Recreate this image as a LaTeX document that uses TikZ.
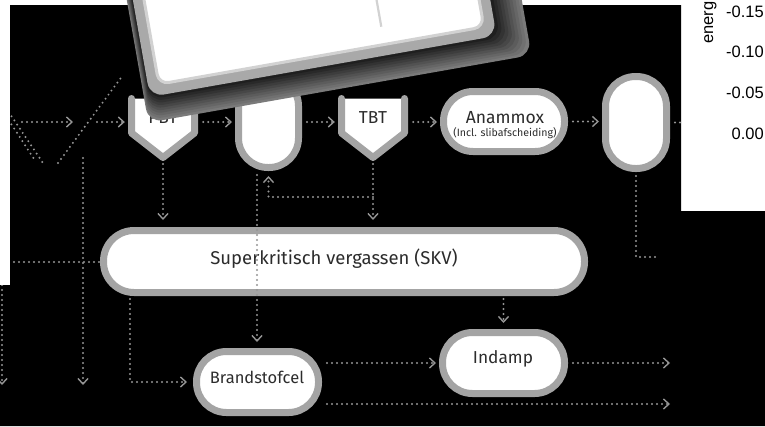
\documentclass[tikz,border=0pt]{standalone}
\usepackage{fontspec}
\setmainfont{Fira Sans}
\newfontfamily\plotfont{Liberation Sans}
\usetikzlibrary{arrows.meta,calc}
\definecolor{pillgrey}{HTML}{A4A4A4}
\definecolor{dotgrey}{HTML}{959595}
\definecolor{labelgrey}{HTML}{2C2C2C}
\definecolor{keygrey}{HTML}{A9A9A9}
\definecolor{bevel}{HTML}{D2D2D2}

\begin{document}
\begin{tikzpicture}[x=1pt,y=-1pt,
  pill/.style={draw=pillgrey, line width=7pt, fill=white, inner sep=0pt, rectangle},
  hopperbox/.style={inner sep=0pt, minimum width=70pt, minimum height=56pt},
  hopperline/.style={draw=pillgrey, line width=7pt, line cap=round, line join=round},
  lab/.style={text=labelgrey, inner sep=0pt, anchor=base, font=\fontsize{17.3}{20}\selectfont},
  smalllab/.style={text=labelgrey, inner sep=0pt, anchor=base, font=\fontsize{10.6}{12}\selectfont},
  flow/.style={draw=dotgrey, line width=2.2pt, line cap=round, dash pattern=on 0pt off 5pt},
  tip/.style={-{Straight Barb[length=5.5pt,width=10pt,line width=1.4pt]}},
  axislab/.style={inner sep=0pt, text=black, font=\plotfont\fontsize{16.5}{19}\selectfont}
]
\useasboundingbox (0,0) rectangle (765,426);
\fill[white] (0,0) rectangle (765,426);

% dark panel of the flow scheme
\path[fill=black] (10,5) -- (681,5) -- (681,211) -- (765,211) -- (765,426)
  -- (0,426) -- (0,285) -- (10,285) -- cycle;

\begin{scope}
\clip (10,5) -- (681,5) -- (681,211) -- (765,211) -- (765,426)
  -- (0,426) -- (0,285) -- (10,285) -- cycle;

% hopper-shaped process units (open at the top)
\node[hopperbox] (pbt) at (163,122) {};
\coordinate (pbtbot) at (163,161);
\fill[white] (131.5,98.5) -- (131.5,133) -- (163,157.5) -- (194.5,133) -- (194.5,98.5) -- cycle;
\draw[hopperline] (131.5,98.5) -- (131.5,133) -- (163,157.5) -- (194.5,133) -- (194.5,98.5);
\node[lab] (pbtlab) at (163,123) {PBT};

\node[hopperbox] (tbt) at (373,122) {};
\coordinate (tbtbot) at (373,161);
\fill[white] (341.5,98.5) -- (341.5,133) -- (373,157.5) -- (404.5,133) -- (404.5,98.5) -- cycle;
\draw[hopperline] (341.5,98.5) -- (341.5,133) -- (373,157.5) -- (404.5,133) -- (404.5,98.5);
\node[lab] (tbtlab) at (373,123) {TBT};

% rounded process units
\node[pill, minimum width=60pt, minimum height=91pt, rounded corners=29.5pt] (mid) at (268.5,122) {};
\node[pill, minimum width=61pt, minimum height=92pt, rounded corners=30pt] (rp) at (636,122.5) {};
\node[pill, minimum width=121pt, minimum height=60pt, rounded corners=29.5pt] (ana) at (504,121.5) {};
\node[lab, font=\fontsize{17.5}{20}\selectfont] (analab) at (505,123) {Anammox};
\node[smalllab] (anasub) at (505,136.5) {(Incl. slibafscheiding)};
\node[pill, minimum width=481pt, minimum height=62pt, rounded corners=30.5pt] (skv) at (344,261.5) {};
\node[lab, font=\fontsize{18.5}{21}\selectfont] (skvlab) at (334,264) {Superkritisch vergassen (SKV)};
\node[pill, minimum width=122pt, minimum height=61pt, rounded corners=30pt] (bsc) at (257.5,382) {};
\node[lab, font=\fontsize{16.5}{19}\selectfont] (bsclab) at (257,383) {Brandstofcel};
\node[pill, minimum width=122pt, minimum height=61pt, rounded corners=30pt] (ind) at (503.5,363) {};
\node[lab] (indlab) at (503,363) {Indamp};

% incoming and loose flow lines on the left
\coordinate (a1) at (22,122);
\coordinate (a2) at (73,122);
\draw[flow,tip] (a1) -- (a2);
\coordinate (b1) at (97,122);
\draw[flow,tip,shorten >=3pt] (b1) -- (pbt.west);
\coordinate (d1) at (6,108);
\coordinate (d2) at (43,163);
\draw[flow] (d1) -- (d2);
\coordinate (d3) at (6,116);
\coordinate (d4) at (36,162);
\draw[flow] (d3) -- (d4);
\coordinate (d5) at (58,163);
\coordinate (d6) at (123,75);
\draw[flow] (d5) -- (d6);
\coordinate (v1) at (83,158);
\coordinate (v1e) at (83,385);
\draw[flow,tip] (v1) -- (v1e);
\coordinate (v0) at (2,200);
\coordinate (v0e) at (2,385);
\draw[flow,tip] (v0) -- (v0e);
\coordinate (k1) at (14,262);
\draw[flow] (k1) -- (k1 -| skv.west);

% main line
\draw[flow,tip,shorten <=5pt,shorten >=3pt] (pbt.east) -- (mid.west);
\draw[flow,tip,shorten <=5pt,shorten >=3pt] (mid.east) -- (tbt.west);
\draw[flow,tip,shorten <=5pt,shorten >=3pt] (tbt.east) -- (tbt.east -| ana.west);
\draw[flow,tip,shorten <=5pt,shorten >=3pt] (ana.east) -- (ana.east -| rp.west);
\coordinate (rpout) at (700,122.5);
\draw[flow,shorten <=5pt] (rp.east) -- (rpout);

% down to the gasifier and return loop
\draw[flow,tip,shorten <=3pt,shorten >=7pt] (pbtbot) -- (pbtbot |- skv.north);
\draw[flow,tip,shorten <=3pt,shorten >=7pt] (tbtbot) -- (tbtbot |- skv.north);
\coordinate (fb) at (373,197);
\draw[flow,tip,shorten >=5pt] (fb) -| (mid.south);
\coordinate (midout) at (257,171);
\draw[flow,tip,shorten <=4pt,shorten >=6pt] (midout) -- (midout |- bsc.north);

% gasifier outputs
\coordinate (o1) at (130,296);
\draw[flow,tip,shorten <=3pt,shorten >=6pt] (o1) |- (bsc.west);
\draw[flow,tip,shorten <=3pt,shorten >=6pt] (ind.north |- skv.south) -- (ind.north);
\draw[flow,tip,shorten <=5pt,shorten >=3pt] (bsc.east |- ind.west) -- (ind.west);
\coordinate (r1) at ($(bsc.east)+(0,22)$);
\coordinate (r2) at (670,404);
\draw[flow,tip,shorten <=5pt] (r1) -- (r2);
\coordinate (s2) at (670,363);
\draw[flow,tip,shorten <=5pt] (ind.east) -- (s2);
\coordinate (t2) at (656,257);
\draw[flow,shorten <=4pt] (rp.south) -- (rp.south |- t2) -- (t2);
\end{scope}

% tilted key-like panel with its shaded side
\begin{scope}[shift={(309.4,-12.4)}, rotate=10]
  \foreach \t in {1.0,0.9,0.8,0.7,0.6,0.5,0.4,0.3,0.2,0.1} {
    \pgfmathsetmacro{\pct}{92-40*\t}
    \pgfmathsetmacro{\lft}{-176-6*\t}
    \pgfmathsetmacro{\rgt}{176+31*\t}
    \pgfmathsetmacro{\btm}{80+25*\t}
    \fill[black!\pct, rounded corners=14pt] (\lft,-90) -- (\rgt,-90) -- (\rgt,\btm) -- (\lft,\btm) -- cycle;
  }
  \fill[keygrey, rounded corners=14pt] (-176,-90) -- (176,-90) -- (176,80) -- (-176,80) -- cycle;
  \filldraw[fill=white, draw=bevel, line width=3pt, rounded corners=10pt]
    (-165,-80) -- (165,-80) -- (165,69) -- (-165,69) -- cycle;
  \draw[bevel, line width=2.2pt] (64,51) -- (64,-20);
\end{scope}

% axis labels of the plot in the corner
\node[axislab, rotate=90, anchor=base west] (ylab) at (713,44) {energ};
\node[axislab, anchor=base east] (t1) at (764,17) {-0.15};
\node[axislab, anchor=base east] (t2) at (764,57) {-0.10};
\node[axislab, anchor=base east] (t3) at (764,98) {-0.05};
\node[axislab, anchor=base east] (t4) at (764,139) {0.00};
\end{tikzpicture}
\end{document}
